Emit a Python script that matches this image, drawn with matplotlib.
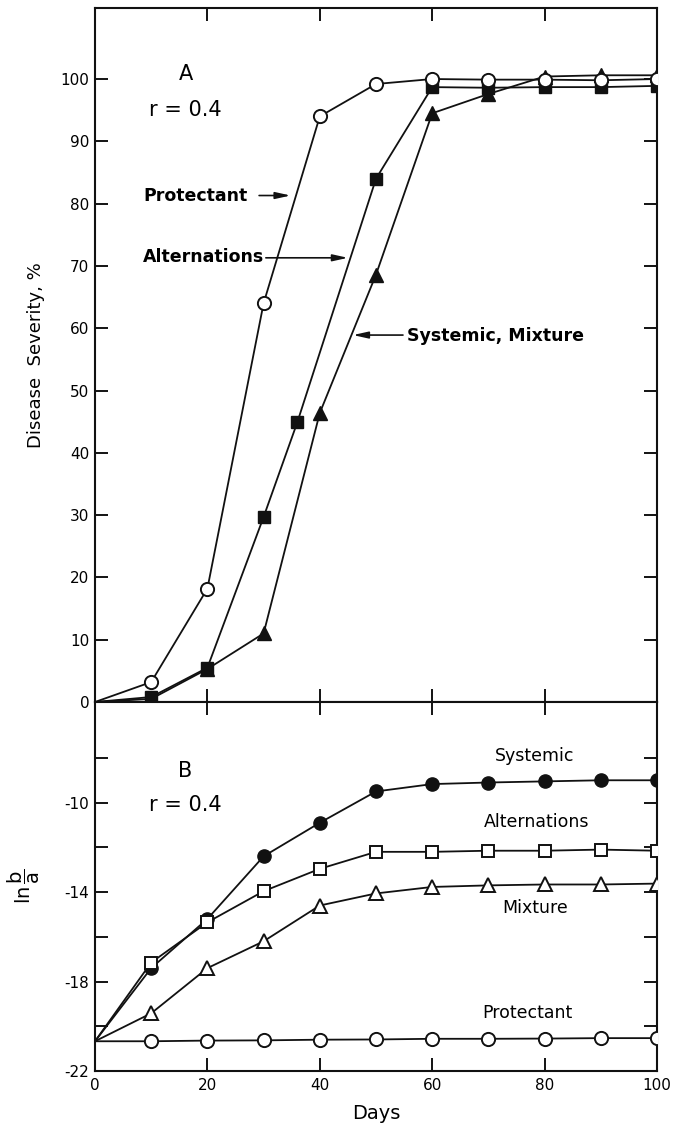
import matplotlib
matplotlib.use("Agg")
import matplotlib.pyplot as plt
from matplotlib.ticker import FixedLocator

plt.rcParams['font.family'] = ['DejaVu Sans']
plt.rcParams['axes.unicode_minus'] = False

# ---------------- data ----------------
days = [0, 10, 20, 30, 40, 50, 60, 70, 80, 90, 100]
days_alt_A = [0, 10, 20, 30, 36, 50, 60, 70, 80, 90, 100]

# Panel A: disease severity, %
prot_A = [0, 3.2, 18.2, 64.0, 94.0, 99.2, 100.0, 99.9, 99.9, 99.8, 100.0]
alt_A = [0, 0.8, 5.5, 29.7, 44.9, 84.0, 98.7, 98.6, 98.7, 98.7, 98.9]
sysmix_A = [0, 0.5, 5.3, 11.0, 46.4, 68.6, 94.5, 97.6, 100.4, 100.6, 100.6]

# Panel B: ln(b/a)
sys_B = [-20.67, -17.4, -15.2, -12.4, -10.9, -9.5, -9.17, -9.1, -9.05, -9.0, -9.0]
alt_B = [-20.67, -17.15, -15.35, -13.96, -12.96, -12.2, -12.2, -12.15, -12.15, -12.1, -12.15]
mix_B = [-20.67, -19.42, -17.4, -16.2, -14.6, -14.06, -13.77, -13.7, -13.66, -13.66, -13.62]
prot_B = [-20.67, -20.67, -20.64, -20.63, -20.6, -20.59, -20.56, -20.56, -20.55, -20.53, -20.53]

yticks_A = [0, 10, 20, 30, 40, 50, 60, 70, 80, 90, 100]
yticks_B_major = [-22, -18, -14, -10]
yticks_B_minor = [-20, -16, -12, -8]
xticks = [0, 20, 40, 60, 80, 100]
inner_xticks = [20, 40, 60, 80]

# ---------------- figure ----------------
W, H = 683, 1125
fig = plt.figure(figsize=(W / 100, H / 100), dpi=100)
L, R = 95, 657
topA, botA, botB = 8, 702, 1071
ax1 = fig.add_axes([L / W, 1 - botA / H, (R - L) / W, (botA - topA) / H])
ax2 = fig.add_axes([L / W, 1 - botB / H, (R - L) / W, (botB - botA) / H])

lw = 1.3
k = '#111111'
ms_c = 9.5
ms_s = 8.5
ms_t = 9.5
mev = slice(1, None)

# Panel A
ax1.plot(days, prot_A, color=k, lw=lw, marker='o', ms=ms_c, mfc='white', mec=k, mew=1.4, markevery=mev, zorder=4)
ax1.plot(days, sysmix_A, color=k, lw=lw, marker='^', ms=ms_t, mfc=k, mec=k, markevery=mev, zorder=3)
ax1.plot(days_alt_A, alt_A, color=k, lw=lw, marker='s', ms=ms_s, mfc=k, mec=k, markevery=mev, zorder=3)

ax1.set_xlim(0, 100)
ax1.set_ylim(0, 111.4)

ax1.text(16.2, 100.8, 'A', fontsize=15, ha='center', va='center')
ax1.text(16.0, 95.0, 'r = 0.4', fontsize=15, ha='center', va='center')

arrow = dict(arrowstyle='-|>,head_length=0.9,head_width=0.2', lw=1.2, color=k,
             shrinkA=0, shrinkB=0)
ax1.text(8.6, 81.2, 'Protectant', fontsize=12.5, fontweight='bold', ha='left', va='center')
ax1.annotate('', xy=(34.8, 81.3), xytext=(29.2, 81.3), arrowprops=arrow)
ax1.text(8.6, 71.4, 'Alternations', fontsize=12.5, fontweight='bold', ha='left', va='center')
ax1.annotate('', xy=(45.0, 71.3), xytext=(30.4, 71.3), arrowprops=arrow)
ax1.text(55.6, 58.7, 'Systemic, Mixture', fontsize=12.5, fontweight='bold', ha='left', va='center')
ax1.annotate('', xy=(45.9, 58.9), xytext=(54.8, 58.9), arrowprops=arrow)

ax1.set_ylabel('Disease  Severity, %', fontsize=13)
ax1.yaxis.set_label_coords((45 - L) / (R - L), 0.5)

ax1.yaxis.set_major_locator(FixedLocator(yticks_A))
ax1.xaxis.set_major_locator(FixedLocator(inner_xticks))
ax1.tick_params(axis='y', which='both', direction='in', length=9.5, width=1.3,
                left=True, right=True, labelleft=True, labelsize=11, pad=4)
ax1.tick_params(axis='x', which='both', direction='in', length=9.5, width=1.3,
                top=True, bottom=True, labelbottom=False)

# Panel B
ax2.plot(days, prot_B, color=k, lw=lw, marker='o', ms=ms_c, mfc='white', mec=k, mew=1.4, markevery=mev, zorder=3)
ax2.plot(days, mix_B, color=k, lw=lw, marker='^', ms=ms_t, mfc='white', mec=k, mew=1.4, markevery=mev, zorder=3)
ax2.plot(days, sys_B, color=k, lw=lw, marker='o', ms=ms_c, mfc=k, mec=k, markevery=mev, zorder=3)
ax2.plot(days, alt_B, color=k, lw=lw, marker='s', ms=ms_s, mfc='white', mec=k, mew=1.4, markevery=mev, zorder=4)

ax2.set_xlim(0, 100)
ax2.set_ylim(-22, -5.5)

ax2.text(16.0, -8.6, 'B', fontsize=15, ha='center', va='center')
ax2.text(16.0, -10.1, 'r = 0.4', fontsize=15, ha='center', va='center')
ax2.text(78.3, -7.9, 'Systemic', fontsize=12.5, ha='center', va='center')
ax2.text(78.6, -10.85, 'Alternations', fontsize=12.5, ha='center', va='center')
ax2.text(78.4, -14.73, 'Mixture', fontsize=12.5, ha='center', va='center')
ax2.text(77.0, -19.4, 'Protectant', fontsize=12.5, ha='center', va='center')

ax2.set_ylabel(r'$\mathrm{ln}\,\dfrac{\mathrm{b}}{\mathrm{a}}$', fontsize=14)
ax2.yaxis.set_label_coords((42 - L) / (R - L), 0.5)
ax2.set_xlabel('Days', fontsize=14, labelpad=8)

ax2.yaxis.set_major_locator(FixedLocator(yticks_B_major))
ax2.yaxis.set_minor_locator(FixedLocator(yticks_B_minor))
ax2.xaxis.set_major_locator(FixedLocator(xticks))
ax2.tick_params(axis='y', which='both', direction='in', length=9.5, width=1.3,
                left=True, right=True, labelsize=11, pad=4)
ax2.tick_params(axis='x', which='both', direction='in', length=9.5, width=1.3,
                top=True, bottom=True, labelsize=11, pad=5)

for ax in (ax1, ax2):
    for s in ax.spines.values():
        s.set_linewidth(1.5)
        s.set_color(k)

fig.savefig('out.png', dpi=100)
